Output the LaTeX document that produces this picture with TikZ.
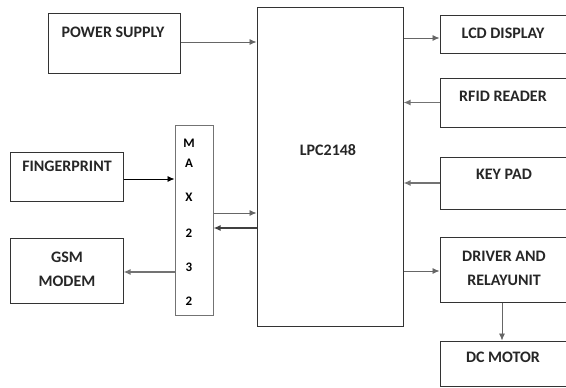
\documentclass[tikz,border=0pt]{standalone}
\usepackage{fontspec}
\setmainfont{Carlito}
\usetikzlibrary{arrows.meta}

\tikzset{
	blk/.style={draw=black!80, line width=1pt, rectangle, inner sep=0pt},
	lbl/.style={font=\fontsize{16}{18}\selectfont\bfseries, inner sep=0pt, text=black!85},
	maxlbl/.style={font=\fontsize{13}{14}\selectfont\bfseries, inner sep=0pt},
	thin arrow/.style={-{Latex[length=7pt,width=6pt]}, draw=black!60, line width=0.8pt},
	thick arrow/.style={-{Latex[length=7pt,width=6pt]}, draw=black!55, line width=1.8pt},
}

\begin{document}
\begin{tikzpicture}[x=1pt, y=-1pt]
\useasboundingbox (0,0) rectangle (566,388);
\clip (0,0) rectangle (566,388);

% boxes
\node[blk, minimum width=132, minimum height=60] (psu) at (114,43) {};
\node[blk, minimum width=146, minimum height=319] (lpc) at (330,166.5) {};
\node[blk, minimum width=130, minimum height=38] (lcd) at (505,34) {};
\node[blk, minimum width=130, minimum height=49] (rfid) at (505,102.5) {};
\node[blk, minimum width=130, minimum height=52] (keypad) at (505,183) {};
\node[blk, minimum width=130, minimum height=65] (driver) at (505,269.5) {};
\node[blk, minimum width=130, minimum height=45] (motor) at (505,363.5) {};
\node[blk, draw=black!55, minimum width=38, minimum height=190] (max) at (194,220) {};
\node[blk, minimum width=113, minimum height=49] (finger) at (66.5,176.5) {};
\node[blk, minimum width=113, minimum height=65] (gsm) at (66.5,270.5) {};

% texts
\node[lbl] (psutext) at (113,32) {POWER SUPPLY};
\node[lbl] (lpctext) at (328,150) {LPC2148};
\node[lbl] (lcdtext) at (503,33) {LCD DISPLAY};
\node[lbl] (rfidtext) at (503,96) {RFID READER};
\node[lbl] (keytext) at (504,174) {KEY PAD};
\node[lbl, align=center] (drivertext) at (504,268.5) {DRIVER AND\\[6pt]RELAYUNIT};
\node[lbl] (motortext) at (503,357) {DC MOTOR};
\node[lbl] (fingertext) at (67,166) {FINGERPRINT};
\node[lbl, align=center] (gsmtext) at (67,269.5) {GSM\\[6pt]MODEM};

\foreach \ch/\yy [count=\i] in {M/143, A/163, X/197, 2/233, 3/267, 2/301}
	\node[maxlbl] (maxch\i) at (189,\yy) {\ch};

% connections
\draw[thin arrow] ([yshift=1pt]psu.east) -- ([yshift=1pt]psu.east -| lpc.west);
\draw[thin arrow] ([yshift=-4pt]lcd.west -| lpc.east) -- ([yshift=-4pt]lcd.west);
\draw[thick arrow] (rfid.west) -- (rfid.west -| lpc.east);
\draw[thick arrow] (keypad.west) -- (keypad.west -| lpc.east);
\draw[thin arrow] ([yshift=-1.5pt]driver.west -| lpc.east) -- ([yshift=-1.5pt]driver.west);
\draw[thin arrow] (driver.south -| 502,0) -- (motor.north -| 502,0);
\draw[thin arrow, draw=black] ([yshift=-2.5pt]finger.east) -- ([yshift=-2.5pt]finger.east -| max.west);
\draw[thick arrow] ([yshift=-1.5pt]gsm.east -| max.west) -- ([yshift=-1.5pt]gsm.east);
\draw[thin arrow] ([yshift=7pt]max.east) -- ([yshift=7pt]max.east -| lpc.west);
\draw[thick arrow, draw=black!75] ([yshift=-8pt]max.east -| lpc.west) -- ([yshift=-8pt]max.east);
\end{tikzpicture}
\end{document}
